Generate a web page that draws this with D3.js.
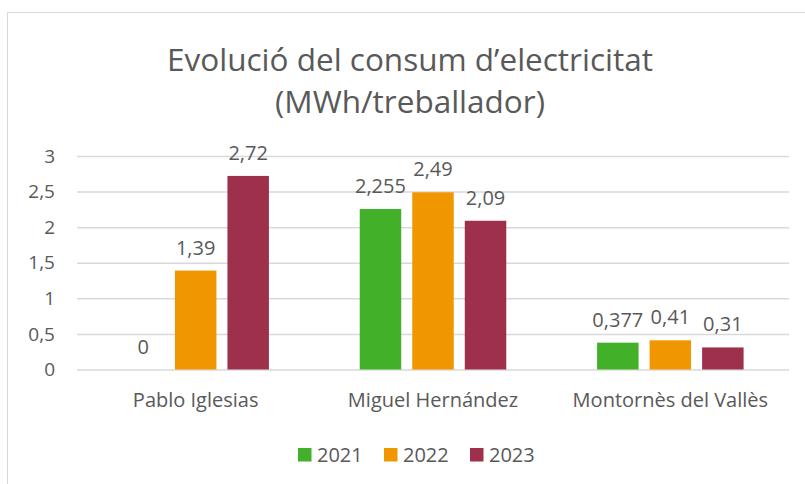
<!DOCTYPE html>
<head>
<meta charset="utf-8">
<title>Evolució del consum d'electricitat</title>
<script type="text/javascript" src="https://d3js.org/d3.v7.min.js"></script>
<style>
body { margin: 0; background: #fff; }
text { font-family: "Open Sans", Lato, sans-serif; fill: #595959; }
</style>
</head>
<body>
<div id="container"></div>
<script>
//*******************
// data
//*******************
const centres = ["Pablo Iglesias", "Miguel Hernández", "Montornès del Vallès"];
const years = ["2021", "2022", "2023"];
const v2021 = [0, 2.255, 0.377];
const v2022 = [1.39, 2.49, 0.41];
const v2023 = [2.72, 2.09, 0.31];
const yTicks = [0, 0.5, 1, 1.5, 2, 2.5, 3];
const colors = ["#43b02a", "#f09600", "#9e304b"];

const series = [v2021, v2022, v2023];

//*******************
// setup svg
//*******************
const width = 805;
const height = 484;
const plot = {left: 77, right: 789, top: 156, bottom: 369.5};
const fontFam = "'Open Sans', Lato, sans-serif";

const svg = d3.select("#container").append("svg")
    .attr("width", width)
    .attr("height", height);

// chart border
svg.append("rect")
    .attr("x", 7.5).attr("y", 12.5)
    .attr("width", 820).attr("height", 500)
    .attr("fill", "none")
    .attr("stroke", "#d9d9d9")
    .attr("stroke-width", 1);

// title
svg.append("text")
    .attr("x", 410).attr("y", 71)
    .attr("text-anchor", "middle")
    .style("font-size", "31.5px")
    .text("Evolució del consum d’electricitat");
svg.append("text")
    .attr("x", 410).attr("y", 113)
    .attr("text-anchor", "middle")
    .style("font-size", "31.5px")
    .text("(MWh/treballador)");

//*******************
// scales
//*******************
const x0 = d3.scaleBand()
    .domain(centres)
    .range([plot.left, plot.right])
    .paddingInner(0)
    .paddingOuter(0);

const x1 = d3.scaleBand()
    .domain(years)
    .range([45.4, x0.bandwidth() - 45.4])
    .paddingInner(0.21)
    .paddingOuter(0);

const y = d3.scaleLinear()
    .domain([0, 3])
    .range([plot.bottom, plot.top]);

const fmt = v => String(v).replace(".", ",");

// gridlines + y labels
const yaxis = d3.axisLeft(y)
    .tickValues(yTicks)
    .tickSize(-(plot.right - plot.left))
    .tickPadding(22)
    .tickFormat(fmt);

const gy = svg.append("g")
    .attr("transform", "translate(" + plot.left + ",0)")
    .call(yaxis);
gy.select(".domain").remove();
gy.selectAll(".tick line")
    .attr("stroke", "#d9d9d9")
    .attr("stroke-width", 1.5);
gy.selectAll(".tick text")
    .attr("fill", "#595959")
    .style("font-family", fontFam)
    .style("font-size", "19px");

// x labels
const xaxis = d3.axisBottom(x0).tickSize(0).tickPadding(23);
const gx = svg.append("g")
    .attr("transform", "translate(0," + plot.bottom + ")")
    .call(xaxis);
gx.select(".domain").remove();
gx.selectAll(".tick text")
    .attr("fill", "#595959")
    .style("font-family", fontFam)
    .style("font-size", "20px");

//*******************
// bars
//*******************
const groups = svg.selectAll("g.group")
    .data(centres)
    .enter().append("g")
    .attr("class", "group")
    .attr("transform", d => "translate(" + x0(d) + ",0)");

groups.selectAll("rect")
    .data((d, i) => years.map((yr, j) => ({year: yr, value: series[j][i]})))
    .enter().append("rect")
    .attr("x", d => x1(d.year))
    .attr("width", x1.bandwidth())
    .attr("y", d => y(d.value))
    .attr("height", d => y(0) - y(d.value))
    .attr("fill", (d, j) => colors[j]);

groups.selectAll("text.lbl")
    .data((d, i) => years.map((yr, j) => ({year: yr, value: series[j][i]})))
    .enter().append("text")
    .attr("class", "lbl")
    .attr("x", d => x1(d.year) + x1.bandwidth() / 2)
    .attr("y", d => y(d.value) - 16)
    .attr("text-anchor", "middle")
    .style("font-size", "20px")
    .text(d => fmt(d.value));

//*******************
// legend
//*******************
const legendX = [298, 384, 470];
const legend = svg.selectAll("g.legend")
    .data(years)
    .enter().append("g")
    .attr("class", "legend")
    .attr("transform", (d, i) => "translate(" + legendX[i] + ",448)");

legend.append("rect")
    .attr("width", 13.5).attr("height", 13.5)
    .attr("fill", (d, i) => colors[i]);

legend.append("text")
    .attr("x", 19).attr("y", 14)
    .style("font-size", "20px")
    .text(d => d);
</script>
</body>
